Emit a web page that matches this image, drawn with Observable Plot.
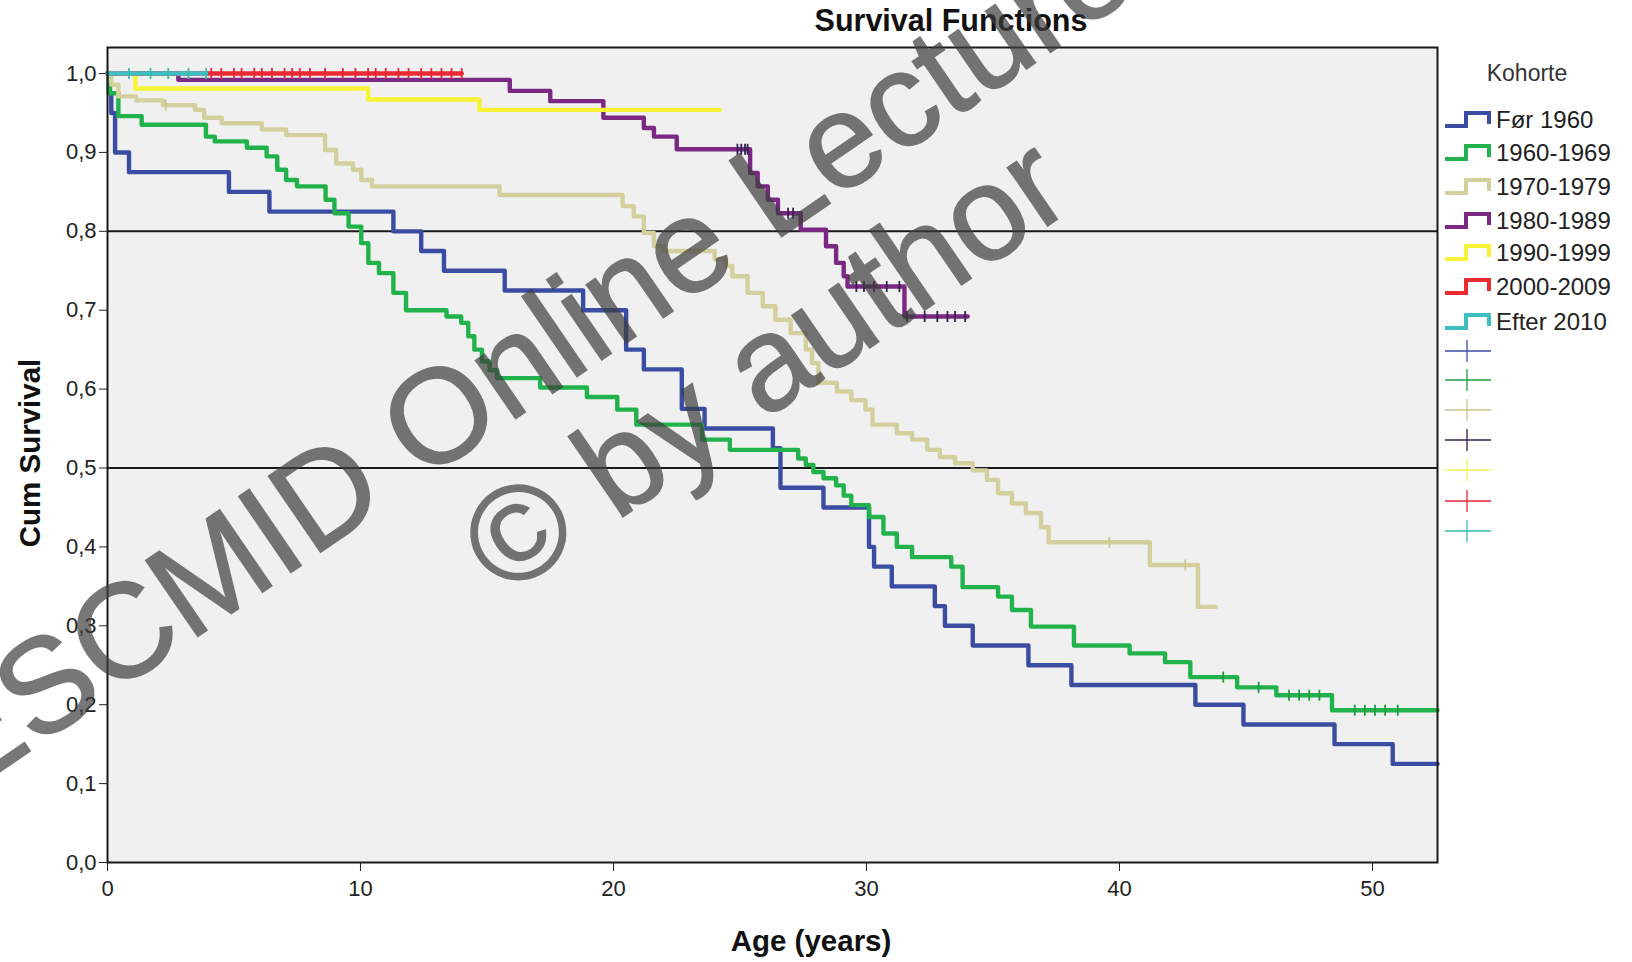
<!DOCTYPE html>
<html><head><meta charset="utf-8">
<script src="https://cdn.jsdelivr.net/npm/d3@7"></script>
<script src="https://cdn.jsdelivr.net/npm/@observablehq/plot@0.6"></script>
<style>
html,body{margin:0;padding:0;background:#fff;}
#wrap{position:relative;width:1632px;height:962px;overflow:hidden;font-family:"Liberation Sans",Arial,sans-serif;color:#111;}
#chart{position:absolute;left:0;top:0;}
.abs{position:absolute;white-space:nowrap;}
.title{left:951px;top:3px;transform:translateX(-50%);font-weight:bold;font-size:30.5px;}
.xlab{left:811px;top:924px;transform:translateX(-50%);font-weight:bold;font-size:29.5px;}
.ylab{left:30px;top:453px;transform:translate(-50%,-50%) rotate(-90deg);font-weight:bold;font-size:29.5px;}
.legtitle{left:1527px;top:60px;transform:translateX(-50%);font-size:23px;color:#333;}
.legrow{left:1444px;height:30px;display:flex;align-items:center;font-size:24px;color:#222;}
.legrow svg{margin-right:4px;}
.wm{font-size:134px;color:#3e3e3e;-webkit-text-stroke:1.5px #3e3e3e;opacity:0.7;transform:translate(-50%,-50%) rotate(-34.4deg);pointer-events:none;}
</style></head>
<body><div id="wrap"></div>
<script>
// ---------- data ----------
const cohorts = ["Før 1960","1960-1969","1970-1979","1980-1989","1990-1999","2000-2009","Efter 2010"];
const colors  = ["#3b4da3","#22b24b","#d3d09d","#7a2882","#f5f334","#ec2a32","#3fbfc3"];
const censorColors = ["#3b4da3","#1f9a40","#c9c690","#35204f","#f2f25a","#e3283a","#36bdb0"];
const yTicks = [0,0.1,0.2,0.3,0.4,0.5,0.6,0.7,0.8,0.9,1.0];
const xTicks = [0,10,20,30,40,50];
const refLines = [0.8,0.5];

// step times (years) and survival after each step; last entry = end of follow-up
const tFor1960 = [0,0.05,0.15,0.3,0.85,4.8,6.4,11.3,12.4,13.3,15.7,18.8,20.5,21.2,22.7,23.6,26.3,26.6,28.3,30.1,30.3,31.0,32.7,33.1,34.2,36.4,38.1,43.0,44.9,48.5,50.8,52.57];
const sFor1960 = [1.0,0.975,0.95,0.90,0.875,0.85,0.825,0.80,0.775,0.75,0.725,0.70,0.65,0.625,0.575,0.55,0.525,0.475,0.45,0.40,0.375,0.35,0.325,0.30,0.275,0.25,0.225,0.20,0.175,0.15,0.125,0.125];

const t1960 = [0,0.1,0.43,1.35,3.89,4.24,5.51,6.29,6.71,7.06,7.49,8.62,8.97,9.53,10.03,10.31,10.73,11.3,11.8,13.4,13.98,14.26,14.5,14.8,15.1,15.4,17.1,18.95,20.15,20.9,23.5,24.6,27.3,27.6,27.9,28.3,28.8,29.1,29.4,30.1,30.67,31.2,31.8,33.35,33.8,35.2,35.75,36.5,38.2,40.4,41.8,42.8,44.65,46.2,48.4,52.57];
const s1960 = [1.0,0.975,0.946,0.935,0.920,0.914,0.906,0.895,0.878,0.865,0.857,0.840,0.823,0.806,0.785,0.760,0.747,0.722,0.700,0.692,0.684,0.667,0.650,0.635,0.624,0.614,0.602,0.590,0.574,0.555,0.536,0.523,0.512,0.504,0.495,0.487,0.478,0.465,0.453,0.438,0.417,0.400,0.387,0.375,0.349,0.337,0.320,0.299,0.275,0.265,0.254,0.235,0.222,0.212,0.193,0.193];

const t1970 = [0,0.15,0.43,1.13,2.19,3.46,3.82,4.52,6.1,7.06,8.6,9.04,9.7,10.03,10.45,15.5,20.36,20.8,21.2,21.6,22.0,24.0,24.45,24.7,25.3,25.9,26.4,27.0,27.6,27.85,28.1,28.83,29.4,29.96,30.24,31.2,31.8,32.4,32.9,33.5,34.2,34.76,35.2,35.75,36.3,36.9,37.2,41.2,43.1,43.8];
const s1970 = [1.0,0.986,0.971,0.966,0.960,0.954,0.944,0.937,0.929,0.922,0.903,0.886,0.878,0.865,0.857,0.846,0.832,0.819,0.798,0.781,0.775,0.765,0.756,0.743,0.722,0.705,0.688,0.671,0.650,0.633,0.608,0.597,0.586,0.574,0.555,0.544,0.536,0.523,0.514,0.506,0.497,0.485,0.468,0.455,0.443,0.425,0.406,0.377,0.324,0.324];

const t1980 = [0,2.8,15.9,17.5,19.6,21.2,21.6,22.5,25.4,25.7,26.1,26.5,27.4,28.4,28.8,29.1,29.25,31.5,34.0];
const s1980 = [1.0,0.992,0.978,0.965,0.944,0.931,0.920,0.904,0.874,0.857,0.840,0.823,0.802,0.781,0.760,0.743,0.730,0.692,0.692];

const t1990 = [0,1.1,10.3,14.7,24.2];
const s1990 = [1.0,0.981,0.967,0.954,0.954];

const t2000 = [0,14.0];
const s2000 = [1.0,1.0];

const t2010 = [0,3.9];
const s2010 = [1.0,1.0];

// censored observations (years)
const c1960 = [44.1,45.5,46.7,47.1,47.5,47.9,49.3,49.7,50.1,50.5,51.0];
const c1970 = [2.3,39.6,42.6];
const c1980 = [24.9,25.05,25.2,25.3,26.9,27.1,29.6,29.9,30.3,30.8,31.3,31.6,32.3,32.8,33.2,33.5,33.9];
const c2000 = [4.1,4.5,5.0,5.3,5.8,6.1,6.5,7.0,7.3,7.6,8.0,8.6,9.3,9.8,10.3,10.6,11.0,11.5,11.9,12.4,12.8,13.2,13.6,14.0];
const c2010 = [0.85,1.7,2.4,3.2,3.9];

// ---------- build tables ----------
const series = [
  [tFor1960,sFor1960,[]],
  [t1960,s1960,c1960],
  [t1970,s1970,c1970],
  [t1980,s1980,c1980],
  [t1990,s1990,[]],
  [t2000,s2000,c2000],
  [t2010,s2010,c2010]
];
const steps = [], cens = [];
series.forEach(([t,s,c],i)=>{
  t.forEach((tt,j)=>steps.push({cohort:cohorts[i], t:tt, s:s[j]}));
  c.forEach(ct=>{
    let k = d3.bisectRight(t, ct) - 1; if (k<0) k=0;
    cens.push({cohort:cohorts[i], t:ct, s:s[k], col:censorColors[i]});
  });
});

const vtick = {draw(ctx, size){ const r = Math.sqrt(size/Math.PI); ctx.moveTo(0,-r); ctx.lineTo(0,r); }};

const chart = Plot.plot({
  width:1632, height:962,
  marginLeft:107, marginRight:195, marginTop:47, marginBottom:100,
  style:{fontFamily:'"Liberation Sans",Arial,sans-serif', fontSize:"22px", color:"#222", background:"transparent", overflow:"visible"},
  x:{domain:[0,52.57], ticks:xTicks, tickSize:9, tickPadding:9, label:null, tickFormat:d=>String(d)},
  y:{domain:[0,1.033], ticks:yTicks, tickSize:8, tickPadding:3, label:null, tickFormat:d=>d.toFixed(1).replace(".",",")},
  color:{domain:cohorts, range:colors},
  marks:[
    Plot.frame({fill:"#f0f0f0"}),
    Plot.ruleY(refLines, {stroke:"#1a1a1a", strokeWidth:2}),
    Plot.line(steps, {x:"t", y:"s", z:"cohort", stroke:"cohort", curve:"step-after", strokeWidth:4.4}),
    Plot.dot(cens, {x:"t", y:"s", stroke:d=>d.col, symbol:vtick, r:5.5, strokeWidth:1.8, fill:"none"}),
    Plot.frame({stroke:"#1a1a1a", strokeWidth:2})
  ]
});
chart.id = "chart";
const wrap = document.getElementById("wrap");
wrap.appendChild(chart);

function addDiv(cls, text, style){
  const d = document.createElement("div");
  d.className = "abs " + cls; d.textContent = text;
  if (style) Object.assign(d.style, style);
  wrap.appendChild(d); return d;
}
addDiv("title","Survival Functions");
addDiv("xlab","Age (years)");
addDiv("ylab","Cum Survival");
addDiv("legtitle","Kohorte");

const rowY = [120,153,187,221,253,287,322];
const cRowY = [351,380,410,440,470,501,531];
cohorts.forEach((c,i)=>{
  const r = document.createElement("div");
  r.className = "abs legrow"; r.style.top = (rowY[i]-15)+"px";
  r.innerHTML = `<svg width="48" height="22"><path d="M1,17 H22 V4 H45 V15" fill="none" stroke="${colors[i]}" stroke-width="4"/></svg><span>${c}</span>`;
  wrap.appendChild(r);
  const m = document.createElement("div");
  m.className = "abs"; m.style.left = "1444px"; m.style.top = (cRowY[i]-12)+"px";
  m.innerHTML = `<svg width="48" height="24"><line x1="1" y1="12" x2="47" y2="12" stroke="${censorColors[i]}" stroke-width="1.3"/><line x1="23" y1="1" x2="23" y2="23" stroke="${censorColors[i]}" stroke-width="1.3"/></svg>`;
  wrap.appendChild(m);
});

// watermark
addDiv("wm","ESCMID Online Lecture",{left:"525px", top:"356px"});
addDiv("wm","© by author",{left:"764px", top:"364px"});
</script>
</body></html>
